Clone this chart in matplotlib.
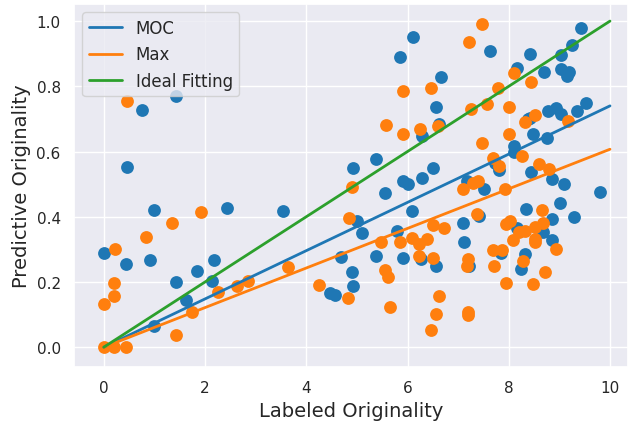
import matplotlib
matplotlib.use("Agg")
import matplotlib.pyplot as plt
import seaborn as sns
import numpy as np

sns.set_theme(style="darkgrid")
plt.rcParams['font.family'] = ['DejaVu Sans']

moc_x = [0, 0.43, 0.45, 0.76, 0.91, 0.99, 0.99, 1.42, 1.42, 1.63, 1.84, 2.17, 2.14, 2.44,
         3.54, 4.47, 4.57, 4.68, 4.91, 4.92, 4.92, 5.0, 5.1, 5.37, 5.38, 5.55, 5.8, 5.85,
         5.92, 5.92, 6.01, 6.09, 6.11, 6.26, 6.28, 6.28, 6.5, 6.56, 6.56, 6.63, 6.67,
         7.09, 7.11, 7.17, 7.21, 7.42, 7.52, 7.63, 7.73, 7.81, 7.84, 8.1, 8.1, 8.17, 8.17,
         8.25, 8.32, 8.35, 8.38, 8.42, 8.42, 8.44, 8.48, 8.68, 8.69, 8.75, 8.77, 8.85,
         8.85, 8.85, 8.93, 9.02, 9.03, 9.03, 9.03, 9.1, 9.16, 9.2, 9.25, 9.29, 9.35,
         9.42, 9.53, 9.8]
moc_y = [0.288, 0.254, 0.553, 0.728, 0.266, 0.42, 0.065, 0.771, 0.2, 0.145, 0.234, 0.266,
         0.203, 0.426, 0.418, 0.166, 0.16, 0.278, 0.232, 0.188, 0.548, 0.387, 0.35, 0.577,
         0.281, 0.473, 0.357, 0.89, 0.509, 0.272, 0.499, 0.417, 0.95, 0.27, 0.519, 0.648,
         0.55, 0.736, 0.249, 0.684, 0.828, 0.38, 0.322, 0.51, 0.249, 0.401, 0.485, 0.909,
         0.566, 0.544, 0.29, 0.618, 0.6, 0.856, 0.367, 0.239, 0.287, 0.425, 0.70, 0.9,
         0.704, 0.538, 0.654, 0.352, 0.844, 0.641, 0.724, 0.515, 0.393, 0.329, 0.734,
         0.442, 0.896, 0.853, 0.716, 0.499, 0.833, 0.844, 0.926, 0.398, 0.724, 0.979,
         0.75, 0.476]

max_x = [0, 0.2, 0.43, 0, 0.2, 0.2, 0.22, 0.45, 0.83, 1.35, 1.42, 1.75, 1.92, 2.25, 2.63,
         2.85, 3.64, 4.25, 4.82, 4.84, 4.9, 5.47, 5.55, 5.57, 5.61, 5.65, 5.86, 5.92, 5.92,
         6.09, 6.22, 6.22, 6.24, 6.38, 6.47, 6.47, 6.51, 6.51, 6.56, 6.61, 6.63, 6.73,
         7.1, 7.17, 7.19, 7.2, 7.2, 7.21, 7.25, 7.29, 7.38, 7.4, 7.47, 7.47, 7.57, 7.68,
         7.68, 7.71, 7.79, 7.81, 7.86, 7.92, 7.94, 7.94, 8.01, 8.01, 8.02, 8.09, 8.1, 8.2,
         8.27, 8.29, 8.32, 8.32, 8.44, 8.48, 8.52, 8.52, 8.52, 8.52, 8.6, 8.66, 8.68,
         8.72, 8.79, 8.93, 9.18]
max_y = [0.0, 0.0, 0.0, 0.132, 0.157, 0.198, 0.30, 0.756, 0.338, 0.381, 0.036, 0.107,
         0.416, 0.17, 0.188, 0.204, 0.245, 0.19, 0.152, 0.396, 0.492, 0.324, 0.237, 0.681,
         0.214, 0.123, 0.324, 0.787, 0.655, 0.334, 0.316, 0.28, 0.669, 0.333, 0.796, 0.052,
         0.374, 0.272, 0.102, 0.678, 0.156, 0.364, 0.484, 0.249, 0.27, 0.108, 0.098, 0.936,
         0.731, 0.505, 0.408, 0.51, 0.992, 0.625, 0.746, 0.581, 0.298, 0.249, 0.795, 0.555,
         0.298, 0.484, 0.379, 0.197, 0.738, 0.654, 0.386, 0.329, 0.841, 0.352, 0.585,
         0.265, 0.689, 0.357, 0.814, 0.193, 0.712, 0.37, 0.331, 0.323, 0.562, 0.42, 0.38,
         0.23, 0.546, 0.3, 0.695]

fit_x = [0, 10]
moc_slope = 0.074
max_slope = 0.0607
ideal_slope = 0.1

fig = plt.figure(figsize=(6.32, 4.27), dpi=100)
ax = fig.add_axes([0.117, 0.138, 0.877, 0.850])

ax.scatter(moc_x, moc_y, s=85, color='#1f77b4', linewidths=0, zorder=2)
ax.scatter(max_x, max_y, s=85, color='#ff7f0e', linewidths=0, zorder=2)

fx = np.array(fit_x, dtype=float)
ax.plot(fx, moc_slope * fx, color='#1f77b4', lw=2, label='MOC', zorder=3)
ax.plot(fx, max_slope * fx, color='#ff7f0e', lw=2, label='Max', zorder=3)
ax.plot(fx, ideal_slope * fx, color='#2ca02c', lw=2, label='Ideal Fitting', zorder=3)

ax.set_xlim(-0.59, 10.36)
ax.set_ylim(-0.061, 1.052)
ax.set_xticks([0, 2, 4, 6, 8, 10])
ax.set_yticks([0.0, 0.2, 0.4, 0.6, 0.8, 1.0])
ax.tick_params(labelsize=11)
ax.set_xlabel('Labeled Originality', fontsize=14)
ax.set_ylabel('Predictive Originality', fontsize=14)
ax.legend(loc='upper left', fontsize=12)

fig.savefig('out.png', dpi=100)
